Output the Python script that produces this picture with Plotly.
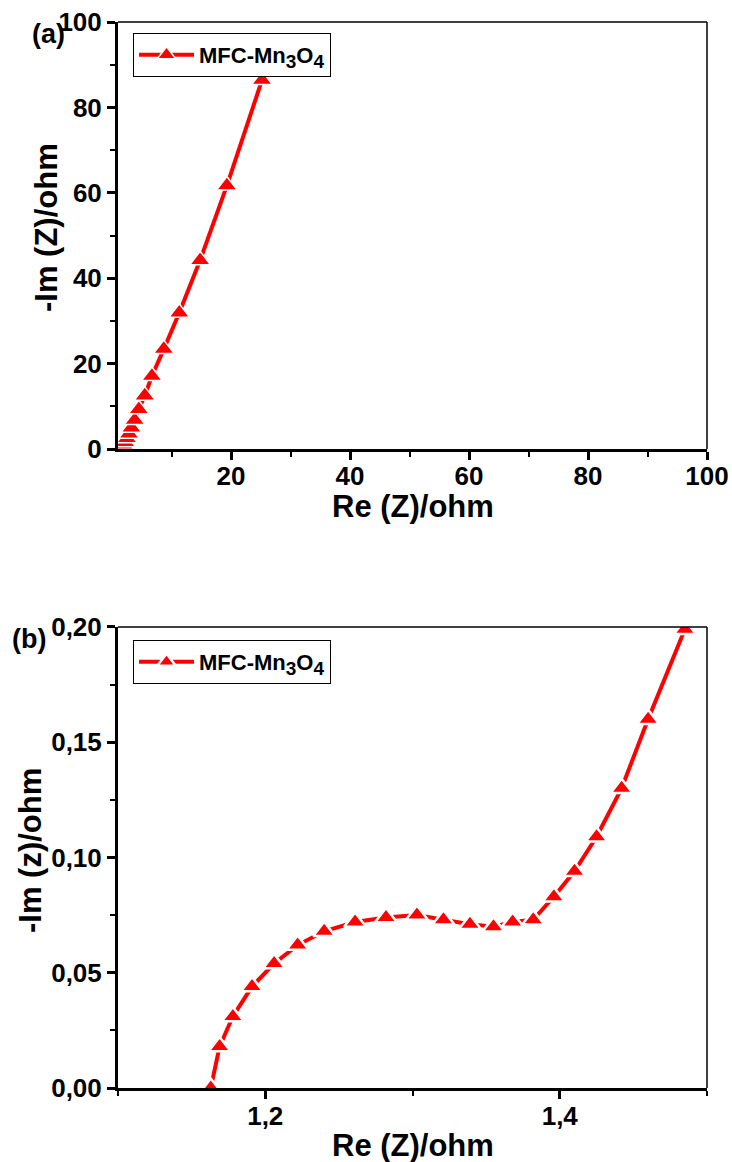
import plotly.graph_objects as go

# ---- data ----
series_name = ("MFC-Mn<sub><span style='font-size:19px'>3</span></sub>"
               "O<sub><span style='font-size:19px'>4</span></sub>")

# panel (a): full Nyquist plot
re_a = [1.165, 1.172, 1.178, 1.19, 1.205, 1.222, 1.24, 1.26, 1.28, 1.30, 1.32, 1.34,
        1.355, 1.368, 1.382, 1.396, 1.41, 1.426, 1.442, 1.46, 1.485,
        1.6, 1.75, 1.95, 2.2, 2.5, 2.85, 3.25, 3.8, 4.5, 5.5, 6.7, 8.7, 11.3, 14.8, 19.3, 25.2]
im_a = [0.0, 0.018, 0.031, 0.044, 0.054, 0.062, 0.068, 0.072, 0.074, 0.075, 0.073, 0.071,
        0.070, 0.072, 0.073, 0.083, 0.094, 0.109, 0.130, 0.160, 0.199,
        0.35, 0.6, 1.0, 1.6, 2.5, 3.6, 5.0, 6.8, 9.3, 12.5, 17.1, 23.4, 31.9, 44.2, 61.7, 86.4]

# panel (b): high-frequency zoom
re_b = [1.163, 1.169, 1.178, 1.191, 1.206, 1.222, 1.240, 1.261, 1.282, 1.303, 1.321,
        1.339, 1.355, 1.368, 1.382, 1.396, 1.410, 1.425, 1.442, 1.460, 1.485]
im_b = [0.0, 0.018, 0.031, 0.044, 0.054, 0.062, 0.068, 0.072, 0.074, 0.075, 0.073,
        0.071, 0.070, 0.072, 0.073, 0.083, 0.094, 0.109, 0.130, 0.160, 0.199]

x_title = "Re (Z)/ohm"
y_title_a = "-Im (Z)/ohm"
y_title_b = "-Im (z)/ohm"

RED = "#ff0000"
FONT = "Liberation Sans, Arial, sans-serif"

fig = go.Figure()
fig.add_trace(go.Scatter(x=re_a, y=im_a, mode="lines+markers", name=series_name,
                         line=dict(color=RED, width=4),
                         marker=dict(symbol="triangle-up", size=18, color=RED,
                                     line=dict(color="white", width=1.5)),
                         xaxis="x", yaxis="y", legend="legend"))
fig.add_trace(go.Scatter(x=re_b, y=im_b, mode="lines+markers", name=series_name,
                         line=dict(color=RED, width=4),
                         marker=dict(symbol="triangle-up", size=19, color=RED,
                                     line=dict(color="white", width=2.5)),
                         xaxis="x2", yaxis="y2", legend="legend2"))

tickfont = dict(family=FONT, size=26, color="black", weight="bold")
common = dict(showline=True, linewidth=3, linecolor="black", mirror=False,
              ticks="outside", ticklen=8, tickwidth=3, tickcolor="black",
              showgrid=False, zeroline=False, tickfont=tickfont, automargin=False)

minor_style = dict(ticks="outside", ticklen=5, tickwidth=2, tickcolor="black")

fig.update_layout(
    width=732, height=1162,
    margin=dict(l=118, r=25, t=22, b=74, autoexpand=False),
    paper_bgcolor="white", plot_bgcolor="white",
    separators=",.",
    xaxis=dict(domain=[0, 1], anchor="y", range=[1, 100], tickvals=[20, 40, 60, 80, 100],
               ticklabelstandoff=-6,
               minor=dict(tickvals=[10, 30, 50, 70, 90], **minor_style), **common),
    yaxis=dict(domain=[0.5994, 1], anchor="x", range=[0, 100], tickvals=[0, 20, 40, 60, 80, 100],
               minor=dict(tickvals=[10, 30, 50, 70, 90], **minor_style), **common),
    xaxis2=dict(domain=[0, 1], anchor="y2", range=[1.1, 1.5], tickvals=[1.2, 1.4],
                tickformat=".1f", ticklabelstandoff=-5,
                minor=dict(tickvals=[1.1, 1.3, 1.5], **minor_style), **common),
    yaxis2=dict(domain=[0, 0.4325], anchor="x2", range=[0, 0.2],
                tickvals=[0, 0.05, 0.10, 0.15, 0.20], tickformat=".2f",
                minor=dict(tickvals=[0.025, 0.075, 0.125, 0.175], **minor_style), **common),
    legend=dict(x=0.0255, y=0.9897, xanchor="left", yanchor="top",
                bordercolor="black", borderwidth=1, bgcolor="white",
                font=dict(family=FONT, size=22, color="black", weight="bold"),
                itemwidth=55, tracegroupgap=0),
    legend2=dict(x=0.0255, y=0.4203, xanchor="left", yanchor="top",
                 bordercolor="black", borderwidth=1, bgcolor="white",
                 font=dict(family=FONT, size=22, color="black", weight="bold"),
                 itemwidth=55, tracegroupgap=0),
    showlegend=True,
)

# thin top/right frame lines
for xr, yr in [("x domain", "y domain"), ("x2 domain", "y2 domain")]:
    fig.add_shape(type="line", xref=xr, yref=yr, x0=0, x1=1, y0=1, y1=1,
                  line=dict(color="black", width=1.5), layer="above")
    fig.add_shape(type="line", xref=xr, yref=yr, x0=1, x1=1, y0=0, y1=1,
                  line=dict(color="black", width=1.5), layer="above")

# axis titles and panel labels as annotations (paper coords in px)
H_PLOT = 1162 - 22 - 74
W_PLOT = 732 - 118 - 25

def px_x(px):
    return (px - 118) / W_PLOT

def px_y(py):
    return (1088 - py) / H_PLOT

title_font = dict(family=FONT, size=31, color="black", weight="bold")
label_font = dict(family=FONT, size=27, color="black", weight="bold")
ann = [
    dict(text=x_title, x=px_x(413), y=px_y(506), font=title_font),
    dict(text=x_title, x=px_x(413), y=px_y(1145), font=title_font),
    dict(text=y_title_a, x=px_x(46), y=px_y(228), textangle=-90, font=title_font),
    dict(text=y_title_b, x=px_x(30), y=px_y(851), textangle=-90, font=title_font),
    dict(text="(a)", x=px_x(48), y=px_y(34), font=label_font),
    dict(text="(b)", x=px_x(29), y=px_y(639), font=label_font),
]
for a in ann:
    fig.add_annotation(xref="paper", yref="paper", showarrow=False,
                       xanchor="center", yanchor="middle", **a)

fig.write_html("out.html", config={"displayModeBar": False},
               post_script="document.body.style.margin='0';")
